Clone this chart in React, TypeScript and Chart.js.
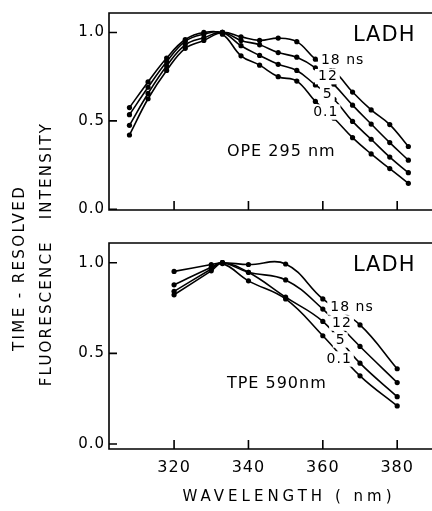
import React, { useEffect, useRef } from "react";
import { Chart, registerables } from "chart.js";

Chart.register(...registerables);

// ---------- data ----------
const opeWavelengths = [308, 313, 318, 323, 328, 333, 338, 343, 348, 353, 358, 363, 368, 373, 378, 383];
const ope01 = [0.575, 0.72, 0.855, 0.96, 1.0, 0.99, 0.868, 0.815, 0.75, 0.725, 0.61, 0.515, 0.405, 0.313, 0.23, 0.147];
const ope5 = [0.535, 0.69, 0.835, 0.95, 0.99, 1.0, 0.925, 0.87, 0.82, 0.785, 0.703, 0.622, 0.497, 0.396, 0.295, 0.207];
const ope12 = [0.475, 0.655, 0.81, 0.93, 0.97, 1.0, 0.955, 0.93, 0.886, 0.86, 0.8, 0.705, 0.589, 0.482, 0.377, 0.278];
const ope18 = [0.42, 0.625, 0.785, 0.91, 0.955, 1.0, 0.975, 0.955, 0.968, 0.948, 0.849, 0.783, 0.663, 0.562, 0.479, 0.355];

const tpeWavelengths = [320, 330, 333, 340, 350, 360, 370, 380];
const tpe01 = [0.823, 0.955, 0.995, 0.9, 0.8, 0.597, 0.376, 0.21];
const tpe5 = [0.842, 0.965, 1.0, 0.947, 0.81, 0.676, 0.446, 0.261];
const tpe12 = [0.878, 0.975, 1.0, 0.947, 0.905, 0.744, 0.538, 0.339];
const tpe18 = [0.952, 0.99, 1.0, 0.99, 0.993, 0.8, 0.657, 0.415];

const timeLabels = ["0.1", "5", "12", "18 ns"];
const yTicks = [0, 0.5, 1.0];
const xTicks = [320, 340, 360, 380];

const panelTag = "LADH";
const opeLabel = "OPE 295 nm";
const tpeLabel = "TPE 590nm";
const xTitle = "WAVELENGTH ( nm)";
const yTitle1 = "TIME - RESOLVED";
const yTitle2 = "FLUORESCENCE   INTENSITY";

// ---------- styling ----------
const FONT = "'DejaVu Sans', sans-serif";
const W = 460;
const H = 511;

type Ann = { text: string; x: number; y: number; size: number; bg?: boolean };

const frameAndTextPlugin = {
  id: "frameText",
  beforeDraw(chart: any) {
    chart.ctx.letterSpacing = "1px";
  },
  afterDatasetsDraw(chart: any, _args: any, opts: any) {
    const { ctx, chartArea: a, scales } = chart;
    ctx.save();
    ctx.letterSpacing = "1px";
    // annotations
    ctx.fillStyle = "#000";
    ctx.textBaseline = "middle";
    ctx.textAlign = "left";
    for (const it of (opts.items || []) as Ann[]) {
      ctx.font = `${it.size}px ${FONT}`;
      const px = scales.x.getPixelForValue(it.x);
      const py = scales.y.getPixelForValue(it.y);
      if (it.bg) {
        const w = ctx.measureText(it.text).width;
        ctx.fillStyle = "#fff";
        ctx.fillRect(px - 3, py - it.size * 0.55, w + 5, it.size * 1.1);
        ctx.fillStyle = "#000";
      }
      ctx.fillText(it.text, px, py);
    }
    // frame
    ctx.strokeStyle = "#000";
    ctx.lineWidth = 1.6;
    ctx.beginPath();
    ctx.moveTo(a.right + 20, a.top);
    ctx.lineTo(a.left, a.top);
    ctx.lineTo(a.left, a.bottom);
    ctx.lineTo(a.right + 20, a.bottom);
    ctx.stroke();
    ctx.beginPath();
    for (const v of yTicks) {
      const y = scales.y.getPixelForValue(v);
      ctx.moveTo(a.left, y);
      ctx.lineTo(a.left + 8, y);
    }
    for (const v of xTicks) {
      const x = scales.x.getPixelForValue(v);
      ctx.moveTo(x, a.bottom);
      ctx.lineTo(x, a.bottom - 9);
    }
    ctx.stroke();
    // free texts (pixel positioned titles)
    for (const t of (opts.titles || []) as any[]) {
      ctx.save();
      ctx.font = `${t.size}px ${FONT}`;
      ctx.letterSpacing = t.spacing;
      ctx.textAlign = "center";
      ctx.textBaseline = "middle";
      ctx.translate(t.px, t.py);
      if (t.rotate) ctx.rotate(-Math.PI / 2);
      ctx.fillText(t.text, 0, 0);
      ctx.restore();
    }
    ctx.restore();
  },
};

function makeDatasets(xs: number[], series: number[][]) {
  return series.map((ys, i) => ({
    label: timeLabels[i],
    data: xs.map((x, j) => ({ x, y: ys[j] })),
    borderColor: "#000",
    backgroundColor: "#000",
    borderWidth: 1.6,
    pointRadius: 2.6,
    pointBorderWidth: 0,
    pointBackgroundColor: "#000",
    tension: 0.4,
    fill: false,
  }));
}

function makeConfig(kind: "top" | "bottom"): any {
  const top = kind === "top";
  const xs = top ? opeWavelengths : tpeWavelengths;
  const series = top ? [ope01, ope5, ope12, ope18] : [tpe01, tpe5, tpe12, tpe18];
  const items: Ann[] = top
    ? [
        { text: panelTag, x: 368.1, y: 0.98, size: 21 },
        { text: opeLabel, x: 334.2, y: 0.326, size: 16 },
        { text: timeLabels[3], x: 359.5, y: 0.84, size: 14, bg: true },
        { text: timeLabels[2], x: 358.7, y: 0.75, size: 14, bg: true },
        { text: timeLabels[1], x: 360.0, y: 0.65, size: 14, bg: true },
        { text: timeLabels[0], x: 357.4, y: 0.55, size: 14, bg: true },
      ]
    : [
        { text: panelTag, x: 368.1, y: 0.985, size: 21 },
        { text: tpeLabel, x: 334.2, y: 0.331, size: 16 },
        { text: timeLabels[3], x: 362.0, y: 0.755, size: 14, bg: true },
        { text: timeLabels[2], x: 362.5, y: 0.667, size: 14, bg: true },
        { text: timeLabels[1], x: 363.5, y: 0.574, size: 14, bg: true },
        { text: timeLabels[0], x: 361.0, y: 0.469, size: 14, bg: true },
      ];
  const titles = top
    ? [
        { text: yTitle1, px: 20, py: 268, size: 15, spacing: "2.4px", rotate: true },
        { text: yTitle2, px: 47, py: 254, size: 15, spacing: "2.2px", rotate: true },
      ]
    : [{ text: xTitle, px: 289, py: 497, size: 15, spacing: "4px", rotate: false }];

  return {
    type: "line",
    data: { datasets: makeDatasets(xs, series) },
    options: {
      responsive: false,
      animation: false,
      devicePixelRatio: 1,
      events: [],
      layout: { padding: top ? { left: 0, top: 9, right: 10, bottom: H - 210 } : { left: 0, top: 243, right: 10, bottom: 0 } },
      plugins: {
        legend: { display: false },
        tooltip: { enabled: false },
        frameText: { items, titles },
      },
      scales: {
        x: {
          type: "linear",
          min: 302.5,
          max: 394.2,
          grid: { display: false, drawTicks: false },
          border: { display: false },
          afterBuildTicks: (s: any) => {
            s.ticks = xTicks.map((v) => ({ value: v }));
          },
          afterFit: (s: any) => {
            s.height = top ? 0 : H - 449;
          },
          ticks: {
            display: !top,
            color: "#000",
            padding: 9,
            maxRotation: 0,
            font: { family: FONT, size: 16 },
            callback: (v: any) => String(v),
          },
        },
        y: {
          type: "linear",
          min: top ? -0.004 : -0.0276,
          max: top ? 1.11 : 1.1087,
          grid: { display: false, drawTicks: false },
          border: { display: false },
          afterBuildTicks: (s: any) => {
            s.ticks = yTicks.map((v) => ({ value: v }));
          },
          afterFit: (s: any) => {
            s.width = 109;
          },
          ticks: {
            color: "#000",
            padding: 4,
            font: { family: FONT, size: 15 },
            callback: (v: any) => Number(v).toFixed(1),
          },
        },
      },
    },
    plugins: [frameAndTextPlugin],
  };
}

function Panel({ kind }: { kind: "top" | "bottom" }) {
  const ref = useRef<HTMLCanvasElement | null>(null);
  useEffect(() => {
    if (!ref.current) return;
    const chart = new Chart(ref.current, makeConfig(kind));
    return () => chart.destroy();
  }, [kind]);
  return (
    <canvas
      ref={ref}
      width={W}
      height={H}
      style={{ position: "absolute", left: 0, top: 0, width: W, height: H }}
    />
  );
}

export default function App() {
  return (
    <div
      style={{
        position: "fixed",
        left: 0,
        top: 0,
        width: 432,
        height: 511,
        overflow: "hidden",
        background: "#fff",
      }}
    >
      <Panel kind="top" />
      <Panel kind="bottom" />
    </div>
  );
}
